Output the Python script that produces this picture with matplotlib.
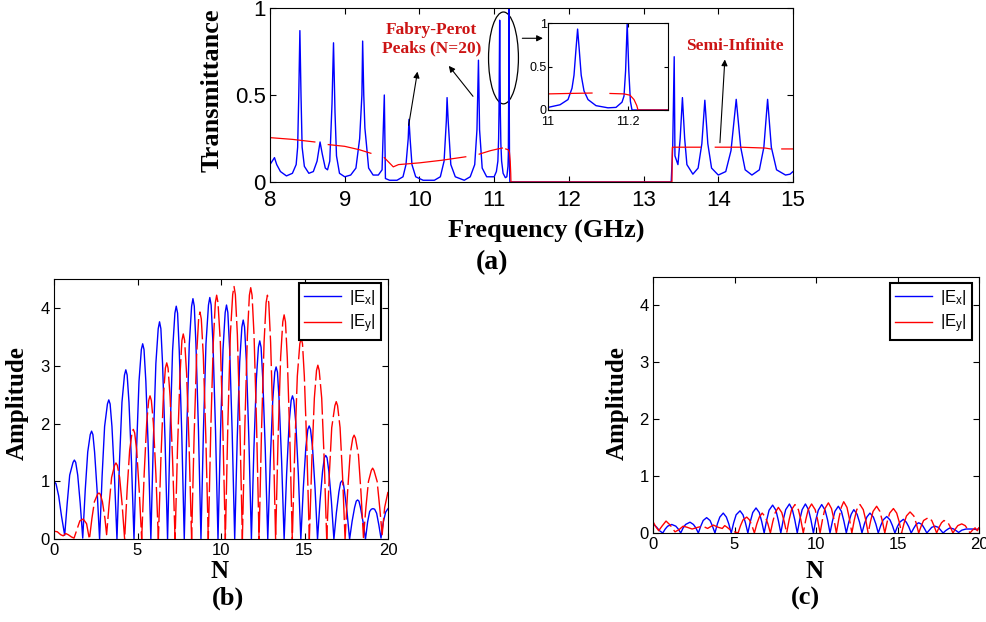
import numpy as np
import matplotlib
matplotlib.use("Agg")
import matplotlib.pyplot as plt
from matplotlib.patches import Ellipse

plt.rcParams['font.family'] = ['Liberation Sans', 'DejaVu Sans']
plt.rcParams['mathtext.default'] = 'regular'

nan = np.nan

# (a) transmittance spectrum, Fabry-Perot structure (N=20)
freq_fp = [8.00, 8.03, 8.06, 8.09, 8.14, 8.22, 8.30, 8.35, 8.37, 8.385, 8.40, 8.415, 8.43, 8.46,
           8.52, 8.58, 8.63, 8.67, 8.70, 8.74, 8.77, 8.80, 8.83, 8.85, 8.87, 8.89, 8.93, 9.00,
           9.08, 9.15, 9.20, 9.23, 9.24, 9.255, 9.27, 9.29, 9.32, 9.38, 9.45, 9.50, 9.53, 9.545,
           9.60, 9.70, 9.78, 9.82, 9.85, 9.86, 9.875, 9.90, 9.95, 10.05, 10.20, 10.28, 10.33,
           10.36, 10.37, 10.385, 10.42, 10.48, 10.60, 10.68, 10.74, 10.77, 10.79, 10.805, 10.84,
           10.90, 10.97, 11.00, 11.03, 11.05, 11.06, 11.065, 11.07, 11.074, 11.078, 11.083, 11.09,
           11.10, 11.12, 11.15, 11.17, 11.185, 11.19, 11.194, 11.198, 11.202, 11.206, 11.21,
           12.00, 13.37, 13.39, 13.41, 13.42, 13.46, 13.49, 13.52, 13.55, 13.58, 13.66, 13.73,
           13.78, 13.82, 13.86, 13.91, 14.00, 14.10, 14.17, 14.24, 14.30, 14.36, 14.45, 14.55,
           14.61, 14.66, 14.71, 14.78, 14.90, 14.96, 15.00]
trans_fp = [0.10, 0.12, 0.14, 0.10, 0.06, 0.035, 0.05, 0.10, 0.20, 0.50, 0.87, 0.50, 0.20, 0.09,
            0.05, 0.06, 0.12, 0.23, 0.16, 0.08, 0.07, 0.12, 0.45, 0.80, 0.40, 0.15, 0.05, 0.03,
            0.04, 0.08, 0.25, 0.50, 0.81, 0.50, 0.31, 0.22, 0.08, 0.04, 0.04, 0.07, 0.50, 0.02,
            0.01, 0.01, 0.03, 0.10, 0.25, 0.36, 0.25, 0.10, 0.03, 0.01, 0.01, 0.03, 0.12,
            0.35, 0.485, 0.35, 0.10, 0.03, 0.01, 0.03, 0.10, 0.30, 0.70, 0.30, 0.08,
            0.03, 0.03, 0.03, 0.06, 0.12, 0.25, 0.40, 0.70, 0.93, 0.70, 0.40, 0.22,
            0.12, 0.05, 0.025, 0.03, 0.09, 0.16, 0.45, 1.00, 0.45, 0.10, 0.0,
            0.0, 0.0, 0.20, 0.72, 0.15, 0.10, 0.25, 0.485, 0.25, 0.10, 0.045, 0.08,
            0.22, 0.47, 0.22, 0.08, 0.04, 0.06, 0.18, 0.475, 0.20, 0.07, 0.04, 0.07,
            0.20, 0.475, 0.20, 0.07, 0.04, 0.045, 0.06]

# semi-infinite structure
freq_si = [8.00, 8.30, 8.60, nan, 8.78, 9.00, 9.20, 9.35, nan, 9.53, 9.65, 9.72, 10.00, 10.30,
           10.62, nan, 10.80, 10.95, 11.05, 11.11, nan, 11.155, 11.19, 11.205, 11.215, 11.222,
           11.225, 13.38, 13.385, 13.76, nan, 13.96, 14.30, 14.63, 14.70, nan, 14.85, 15.00]
trans_si = [0.255, 0.245, 0.23, nan, 0.215, 0.205, 0.185, 0.165, nan, 0.14, 0.087, 0.10, 0.11,
            0.125, 0.145, nan, 0.16, 0.18, 0.19, 0.195, nan, 0.19, 0.185, 0.17, 0.12, 0.05,
            0.0, 0.0, 0.20, 0.20, nan, 0.20, 0.20, 0.195, 0.19, nan, 0.19, 0.19]

# (b) field amplitudes inside the structure
n_b_ex = [0.00, 0.12, 0.28, 0.45, 0.64,
          0.79, 0.94, 1.14, 1.22, 1.30, 1.42, 1.57, 1.72,
          1.87, 2.02, 2.17, 2.25, 2.33, 2.43, 2.58, 2.73,
          2.88, 3.03, 3.20, 3.28, 3.36, 3.47, 3.62, 3.77,
          3.92, 4.07, 4.22, 4.30, 4.38, 4.49, 4.64, 4.79,
          4.94, 5.09, 5.23, 5.31, 5.39, 5.50, 5.65, 5.80,
          5.95, 6.10, 6.24, 6.32, 6.40, 6.50, 6.65, 6.80,
          6.95, 7.10, 7.24, 7.32, 7.40, 7.50, 7.65, 7.80,
          7.95, 8.10, 8.24, 8.32, 8.40, 8.50, 8.65, 8.80,
          8.95, 9.10, 9.25, 9.33, 9.41, 9.52, 9.67, 9.82,
          9.97, 10.12, 10.25, 10.33, 10.41, 10.52, 10.67, 10.82,
          10.97, 11.12, 11.25, 11.33, 11.41, 11.52, 11.67, 11.82,
          11.97, 12.12, 12.24, 12.32, 12.40, 12.50, 12.65, 12.80,
          12.95, 13.10, 13.22, 13.30, 13.38, 13.48, 13.63, 13.78,
          13.93, 14.08, 14.20, 14.28, 14.36, 14.48, 14.63, 14.78,
          14.93, 15.08, 15.20, 15.28, 15.36, 15.48, 15.63, 15.78,
          15.93, 16.08, 16.19, 16.27, 16.35, 16.46, 16.61, 16.76,
          16.91, 17.06, 17.16, 17.24, 17.32, 17.40, 17.55, 17.70,
          17.85, 18.00, 18.10, 18.18, 18.26, 18.35, 18.50, 18.65,
          18.78, 18.90, 19.00, 19.10, 19.20, 19.32, 19.45, 19.58,
          19.72, 19.86, 20.00]
a_b_ex = [1.00, 0.96, 0.75, 0.40, 0.07,
          0.62, 1.11, 1.33, 1.37, 1.33, 1.11, 0.62, 0.02,
          0.85, 1.51, 1.81, 1.87, 1.81, 1.51, 0.85, 0.0,
          1.09, 1.95, 2.34, 2.41, 2.34, 1.95, 1.09, 0.0,
          1.33, 2.37, 2.84, 2.93, 2.84, 2.37, 1.33, 0.0,
          1.53, 2.73, 3.28, 3.38, 3.28, 2.73, 1.53, 0.0,
          1.71, 3.04, 3.64, 3.76, 3.64, 3.04, 1.71, 0.0,
          1.83, 3.26, 3.91, 4.03, 3.91, 3.26, 1.83, 0.0,
          1.89, 3.37, 4.03, 4.16, 4.03, 3.37, 1.89, 0.0,
          1.90, 3.38, 4.05, 4.18, 4.05, 3.38, 1.90, 0.0,
          1.84, 3.28, 3.92, 4.05, 3.92, 3.28, 1.84, 0.0,
          1.72, 3.07, 3.67, 3.79, 3.67, 3.07, 1.72, 0.0,
          1.56, 2.78, 3.32, 3.43, 3.32, 2.78, 1.56, 0.0,
          1.35, 2.41, 2.89, 2.98, 2.89, 2.41, 1.35, 0.0,
          1.13, 2.01, 2.40, 2.48, 2.40, 2.01, 1.13, 0.0,
          0.89, 1.59, 1.90, 1.96, 1.90, 1.59, 0.89, 0.0,
          0.66, 1.17, 1.41, 1.45, 1.41, 1.17, 0.66, 0.0,
          0.46, 0.82, 0.98, 1.01, 0.98, 0.82, 0.46, 0.0,
          0.31, 0.55, 0.66, 0.68, 0.66, 0.55, 0.31, 0.0,
          0.30, 0.48, 0.52, 0.53, 0.52, 0.45, 0.25, 0.02,
          0.30, 0.47, 0.53]

n_b_ey = [0.00, 0.20, 0.40, 0.55, 0.70, 0.85, 1.05, 1.20, 1.35, 1.55, 1.75, 1.95, 2.12,
          2.27, 2.42, 2.61, 2.69, 2.77, 2.90, 3.05, 3.15,
          3.30, 3.45, 3.63, 3.71, 3.79, 3.93, 4.08, 4.23,
          4.38, 4.53, 4.67, 4.75, 4.83, 4.95, 5.10, 5.25,
          5.40, 5.55, 5.67, 5.75, 5.83, 5.95, 6.10, 6.25,
          6.40, 6.55, 6.67, 6.75, 6.83, 6.95, 7.10, 7.25,
          7.40, 7.55, 7.66, 7.74, 7.82, 7.94, 8.09, 8.24,
          8.39, 8.54, 8.66, 8.74, 8.82, 8.94, 9.09, 9.24,
          9.39, 9.54, 9.66, 9.74, 9.82, 9.96, 10.11, 10.26,
          10.41, 10.56, 10.70, 10.78, 10.86, 10.98, 11.13, 11.28,
          11.43, 11.58, 11.70, 11.78, 11.86, 11.98, 12.13, 12.28,
          12.43, 12.58, 12.70, 12.78, 12.86, 12.97, 13.12, 13.27,
          13.42, 13.57, 13.70, 13.78, 13.86, 13.97, 14.12, 14.27,
          14.42, 14.57, 14.72, 14.80, 14.88, 14.99, 15.14, 15.29,
          15.44, 15.59, 15.72, 15.80, 15.88, 16.03, 16.18, 16.33,
          16.48, 16.63, 16.82, 16.90, 16.98, 17.13, 17.28, 17.43,
          17.58, 17.73, 17.89, 17.97, 18.05, 18.23, 18.38, 18.53,
          18.68, 18.83, 19.00, 19.08, 19.16, 19.35, 19.50, 19.65,
          19.80, 20.00]
a_b_ey = [0.14, 0.13, 0.08, 0.06, 0.10, 0.08, 0.04, 0.02, 0.15, 0.32, 0.35, 0.27, 0.0,
          0.36, 0.65, 0.78, 0.80, 0.78, 0.65, 0.36, 0.08,
          0.60, 1.07, 1.28, 1.32, 1.28, 1.07, 0.60, 0.0,
          0.86, 1.54, 1.84, 1.90, 1.84, 1.54, 0.86, 0.0,
          1.13, 2.01, 2.40, 2.48, 2.40, 2.01, 1.13, 0.0,
          1.38, 2.47, 2.96, 3.05, 2.96, 2.47, 1.38, 0.0,
          1.61, 2.87, 3.44, 3.55, 3.44, 2.87, 1.61, 0.0,
          1.78, 3.18, 3.81, 3.93, 3.81, 3.18, 1.78, 0.0,
          1.92, 3.41, 4.09, 4.22, 4.09, 3.41, 1.92, 0.0,
          1.98, 3.54, 4.23, 4.37, 4.23, 3.54, 1.98, 0.0,
          1.97, 3.52, 4.22, 4.35, 4.22, 3.52, 1.97, 0.0,
          1.92, 3.41, 4.09, 4.22, 4.09, 3.41, 1.92, 0.0,
          1.76, 3.14, 3.76, 3.88, 3.76, 3.14, 1.76, 0.0,
          1.58, 2.82, 3.38, 3.48, 3.38, 2.82, 1.58, 0.0,
          1.37, 2.44, 2.92, 3.01, 2.92, 2.44, 1.37, 0.0,
          1.08, 1.93, 2.31, 2.38, 2.31, 1.93, 1.08, 0.0,
          0.82, 1.46, 1.75, 1.80, 1.75, 1.46, 0.82, 0.03,
          0.56, 1.00, 1.19, 1.23, 1.19, 1.00, 0.56, 0.08,
          0.55, 0.82]

# (c) field amplitudes, second case
n_c_ex = [0.00, 0.20, 0.40, 0.60,
          0.75, 0.90, 1.15, 1.40, 1.55, 1.70,
          1.85, 2.00, 2.27, 2.48, 2.63, 2.78,
          2.93, 3.08, 3.29, 3.50, 3.65, 3.80,
          3.95, 4.10, 4.31, 4.50, 4.65, 4.80,
          4.95, 5.10, 5.34, 5.52, 5.67, 5.82,
          5.97, 6.12, 6.32, 6.52, 6.67, 6.82,
          6.97, 7.12, 7.34, 7.54, 7.69, 7.84,
          7.99, 8.14, 8.37, 8.55, 8.70, 8.85,
          9.00, 9.15, 9.35, 9.54, 9.69, 9.84,
          9.99, 10.14, 10.35, 10.56, 10.71, 10.86,
          11.01, 11.16, 11.37, 11.56, 11.71, 11.86,
          12.01, 12.16, 12.32, 12.52, 12.67, 12.82,
          12.97, 13.12, 13.31, 13.52, 13.67, 13.82,
          13.97, 14.12, 14.34, 14.54, 14.69, 14.84,
          14.99, 15.14, 15.36, 15.54, 15.69, 15.84,
          15.99, 16.14, 16.30, 16.50, 16.65, 16.80,
          16.95, 17.10, 17.30, 17.50, 17.65, 17.80,
          17.95, 18.10, 18.22, 18.45, 18.60, 18.75,
          18.95, 19.20, 19.60, 19.85, 20.00]
a_c_ex = [0.16, 0.11, 0.04, 0.0,
          0.07, 0.12, 0.15, 0.12, 0.07, 0.0,
          0.09, 0.15, 0.19, 0.15, 0.09, 0.0,
          0.12, 0.22, 0.27, 0.22, 0.12, 0.0,
          0.16, 0.28, 0.35, 0.28, 0.16, 0.0,
          0.18, 0.32, 0.39, 0.32, 0.18, 0.0,
          0.20, 0.36, 0.44, 0.36, 0.20, 0.0,
          0.22, 0.40, 0.49, 0.40, 0.22, 0.0,
          0.23, 0.41, 0.51, 0.41, 0.23, 0.0,
          0.23, 0.41, 0.51, 0.41, 0.23, 0.0,
          0.23, 0.40, 0.50, 0.40, 0.23, 0.0,
          0.21, 0.38, 0.47, 0.38, 0.21, 0.0,
          0.19, 0.33, 0.41, 0.33, 0.19, 0.0,
          0.16, 0.28, 0.35, 0.28, 0.16, 0.0,
          0.13, 0.23, 0.29, 0.23, 0.13, 0.0,
          0.11, 0.19, 0.24, 0.19, 0.11, 0.0,
          0.08, 0.15, 0.18, 0.15, 0.08, 0.0,
          0.05, 0.10, 0.12, 0.10, 0.05, 0.0,
          0.04, 0.07, 0.09, 0.07, 0.04, 0.01,
          0.05, 0.07, 0.07, 0.06, 0.08]

n_c_ey = [0.00, 0.15, 0.35, 0.55, 0.80, 1.05, 1.35, 1.60, 1.85, 2.10, 2.40, 2.75, 3.05,
          3.35, 3.70, 4.00, 4.25, 4.40, 4.55, 4.80, 5.22,
          5.37, 5.52, 5.75, 5.92, 6.07, 6.22,
          6.37, 6.52, 6.70, 6.90, 7.05, 7.20,
          7.35, 7.50, 7.69, 7.90, 8.05, 8.20,
          8.35, 8.50, 8.71, 8.92, 9.07, 9.22,
          9.37, 9.52, 9.73, 9.95, 10.10, 10.25,
          10.40, 10.55, 10.76, 10.95, 11.10, 11.25,
          11.40, 11.55, 11.70, 11.90, 12.05, 12.20,
          12.35, 12.50, 12.70, 12.90, 13.05, 13.20,
          13.35, 13.50, 13.72, 13.92, 14.07, 14.22,
          14.37, 14.52, 14.75, 14.95, 15.10, 15.25,
          15.40, 15.55, 15.77, 16.00, 16.15, 16.30,
          16.45, 16.60, 16.89, 17.10, 17.25, 17.40,
          17.55, 17.70, 17.85, 18.10, 18.25, 18.40,
          18.55, 18.70, 18.94, 19.15, 19.30, 19.45,
          19.60, 19.76, 19.90, 20.00]
a_c_ey = [0.20, 0.12, 0.04, 0.12, 0.21, 0.14, 0.02, 0.06, 0.12, 0.10, 0.07, 0.10, 0.12,
          0.08, 0.14, 0.10, 0.08, 0.13, 0.10, 0.04, 0.0,
          0.13, 0.23, 0.28, 0.23, 0.13, 0.0,
          0.16, 0.28, 0.35, 0.28, 0.16, 0.0,
          0.20, 0.36, 0.45, 0.36, 0.20, 0.0,
          0.23, 0.41, 0.50, 0.41, 0.23, 0.0,
          0.23, 0.41, 0.51, 0.41, 0.23, 0.0,
          0.24, 0.43, 0.53, 0.43, 0.24, 0.0,
          0.25, 0.45, 0.55, 0.45, 0.25, 0.0,
          0.23, 0.41, 0.50, 0.41, 0.23, 0.0,
          0.21, 0.38, 0.47, 0.38, 0.21, 0.0,
          0.20, 0.35, 0.43, 0.35, 0.20, 0.0,
          0.17, 0.30, 0.37, 0.30, 0.17, 0.0,
          0.12, 0.22, 0.27, 0.22, 0.12, 0.0,
          0.10, 0.18, 0.22, 0.18, 0.10, 0.0,
          0.07, 0.13, 0.16, 0.13, 0.07, 0.0,
          0.05, 0.09, 0.04, 0.10]

W, H = 986, 622
fig = plt.figure(figsize=(W / 100, H / 100), dpi=100)


def box(x0, y0, x1, y1):
    # pixel box (top-left origin) -> figure fraction rect
    return [x0 / W, 1 - y1 / H, (x1 - x0) / W, (y1 - y0) / H]


def fpos(x, y):
    return x / W, 1 - y / H


def style(ax, size):
    ax.tick_params(direction='in', top=True, right=True, labelsize=size, length=4, width=0.8)
    for s in ax.spines.values():
        s.set_linewidth(0.8)


blue = '#0000ff'
red = '#ff0000'
txt_red = '#cc1414'
serif = ['Liberation Serif', 'DejaVu Serif']

# ---------- (a)
ax = fig.add_axes(box(270, 8, 793, 182))
ax.plot(freq_fp, trans_fp, color=blue, lw=1.0)
ax.plot(freq_si, trans_si, color=red, lw=0.9)
ax.set_xlim(8, 15)
ax.set_ylim(0, 1)
ax.set_xticks(range(8, 16))
ax.set_yticks([0, 0.5, 1])
ax.set_yticklabels(['0', '0.5', '1'])
style(ax, 16)
ax.tick_params(axis='x', pad=6)
ax.tick_params(axis='y', pad=3)

ax.add_patch(Ellipse((11.125, 0.713), 0.40, 0.528, fill=False, ec='k', lw=0.9, clip_on=False))
arr = dict(arrowstyle='-|>', color='k', lw=0.8, mutation_scale=9)
ax.annotate('', xy=(11.69, 0.826), xytext=(11.34, 0.826), arrowprops=arr)
ax.annotate('', xy=(10.37, 0.68), xytext=(10.74, 0.48), arrowprops=arr)
ax.annotate('', xy=(9.98, 0.65), xytext=(9.85, 0.31), arrowprops=arr)
ax.annotate('', xy=(14.09, 0.72), xytext=(14.02, 0.21), arrowprops=arr)
ax.text(10.16, 0.82, 'Fabry-Perot\nPeaks (N=20)', color=txt_red, family=serif,
        fontweight='bold', fontsize=12.5, ha='center', va='center', linespacing=1.15)
ax.text(14.22, 0.78, 'Semi-Infinite', color=txt_red, family=serif,
        fontweight='bold', fontsize=12.5, ha='center', va='center')

ins = fig.add_axes(box(548, 23, 668, 110))
ins.plot(freq_fp, trans_fp, color=blue, lw=1.0)
ins.plot(freq_si, trans_si, color=red, lw=0.9)
ins.set_xlim(11, 11.3)
ins.set_ylim(0, 1)
ins.set_xticks([11, 11.2])
ins.set_xticklabels(['11', '11.2'])
ins.set_yticks([0, 0.5, 1])
ins.set_yticklabels(['0', '0.5', '1'])
style(ins, 9)
ins.tick_params(axis='y', length=3, pad=1)
ins.tick_params(axis='x', length=3, pad=4)

fig.text(*fpos(212, 90), 'Transmittance', rotation=90, family=serif, fontweight='bold',
         fontsize=19, ha='center', va='center')
fig.text(*fpos(546, 231), 'Frequency (GHz)', family=serif, fontweight='bold',
         fontsize=19, ha='center', va='center')
fig.text(*fpos(492, 263), '(a)', family=serif, fontweight='bold', fontsize=20,
         ha='center', va='center')

# ---------- (b) and (c)
panels = [
    (box(54, 279, 388, 539.3), n_b_ex, a_b_ex, n_b_ey, a_b_ey, (381, 283), 17, 220, 228, '(b)'),
    (box(653, 277, 979, 533), n_c_ex, a_c_ex, n_c_ey, a_c_ey, (972, 283), 617, 815, 805, '(c)'),
]
for rect, nx, ax_, ny, ay_, leg_xy, ylab_x, n_x, tag_x, tag in panels:
    axp = fig.add_axes(rect)
    axp.plot(nx, ax_, color=blue, lw=1.0, label='|E$_x$|')
    axp.plot(ny, ay_, color=red, lw=1.0, dashes=(22, 3), label='|E$_y$|')
    axp.set_xlim(0, 20)
    axp.set_ylim(0, 4.5)
    axp.set_xticks([0, 5, 10, 15, 20])
    axp.set_yticks([0, 1, 2, 3, 4])
    style(axp, 12)
    axp.tick_params(pad=3)
    leg = axp.legend(loc='upper right', bbox_to_anchor=fpos(*leg_xy),
                     bbox_transform=fig.transFigure, borderaxespad=0, fontsize=12,
                     handlelength=2.2, handletextpad=0.5, borderpad=0.3,
                     labelspacing=0.35, fancybox=False, framealpha=1)
    leg.get_frame().set_edgecolor('k')
    leg.get_frame().set_linewidth(1.5)
    for line in leg.get_lines():
        line.set_linestyle('-')
    fig.text(*fpos(ylab_x, 403), 'Amplitude', rotation=90, family=serif, fontweight='bold',
             fontsize=18, ha='center', va='center')
    fig.text(*fpos(n_x, 571), 'N', family=serif, fontweight='bold', fontsize=18,
             ha='center', va='center')
    fig.text(*fpos(tag_x, 598), tag, family=serif, fontweight='bold', fontsize=19,
             ha='center', va='center')

plt.savefig('out.png', dpi=100)
